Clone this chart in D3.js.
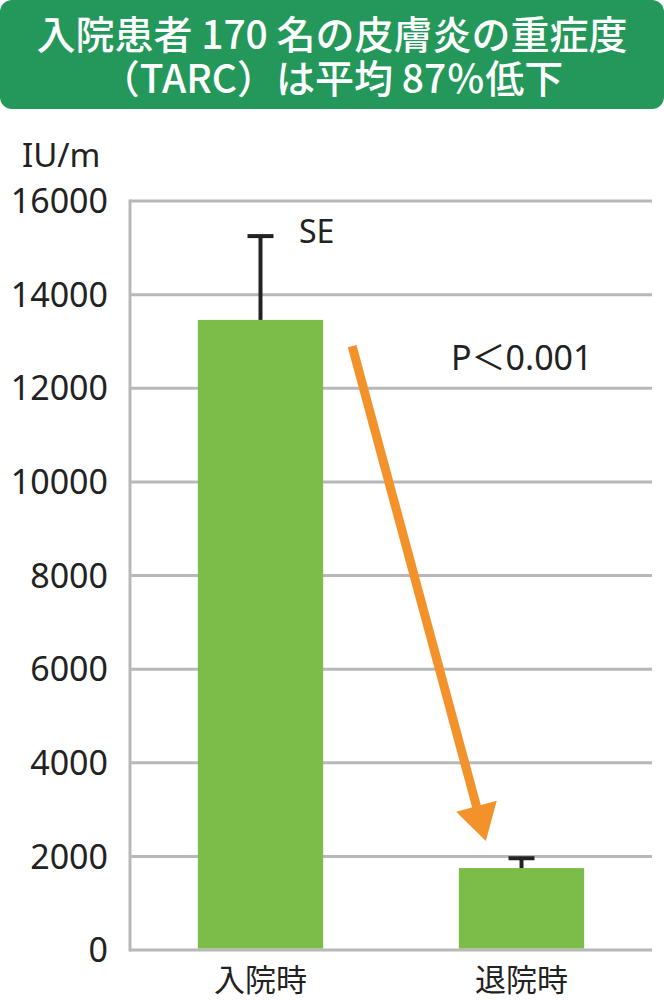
<!DOCTYPE html>
<html>
<head>
<meta charset="utf-8">
<script src="https://cdn.jsdelivr.net/npm/d3@7"></script>
<style>
  body { margin: 0; background: #fff; }
  text { font-family: "Noto Sans", "Noto Sans CJK JP", sans-serif; fill: #222; }
</style>
</head>
<body>
<script>
var categories = ["入院時", "退院時"];
var means = [13460, 1750];
var errTops = [15250, 1960];
var yTicks = [0, 2000, 4000, 6000, 8000, 10000, 12000, 14000, 16000];
var titleLines = ["入院患者 170 名の皮膚炎の重症度", "（TARC）は平均 87％低下"];

var width = 664, height = 1000;
var margin = { top: 201, right: 12, bottom: 50, left: 130 };

var svg = d3.select("body").append("svg")
    .attr("width", width)
    .attr("height", height);

// title box
svg.append("rect")
    .attr("x", 0).attr("y", 0)
    .attr("width", width).attr("height", 109)
    .attr("rx", 12)
    .attr("fill", "#23985a");

svg.selectAll(".title")
  .data(titleLines)
  .enter().append("text")
    .attr("class", "title")
    .attr("x", width / 2)
    .attr("y", (d, i) => 49 + i * 44)
    .attr("text-anchor", "middle")
    .style("font-family", "'Noto Sans CJK JP', sans-serif")
    .style("font-size", "39px")
    .style("font-weight", 500)
    .style("fill", "#fff")
    .text(d => d);

var x = d3.scaleBand()
    .domain(categories)
    .range([margin.left, width - margin.right])
    .paddingInner(0.52)
    .paddingOuter(0.26);

var y = d3.scaleLinear()
    .domain([0, 16000])
    .range([height - margin.bottom, margin.top]);

// grid lines
svg.append("g").selectAll("line")
  .data(yTicks)
  .enter().append("line")
    .attr("x1", margin.left)
    .attr("x2", width - margin.right)
    .attr("y1", d => y(d))
    .attr("y2", d => y(d))
    .attr("stroke", "#b8b8b8")
    .attr("stroke-width", 3);

svg.append("line")
    .attr("x1", margin.left).attr("x2", margin.left)
    .attr("y1", y(16000) - 1.5).attr("y2", y(0) + 1.5)
    .attr("stroke", "#b8b8b8")
    .attr("stroke-width", 3);

// tick labels
svg.append("g").selectAll("text")
  .data(yTicks)
  .enter().append("text")
    .attr("x", 108)
    .attr("y", d => y(d))
    .attr("dy", "0.36em")
    .attr("text-anchor", "end")
    .style("font-size", "34px")
    .text(d => d);

svg.append("text")
    .attr("x", 22).attr("y", 167)
    .style("font-size", "33px")
    .text("IU/m");

// bars
svg.append("g").selectAll("rect")
  .data(means)
  .enter().append("rect")
    .attr("x", (d, i) => x(categories[i]))
    .attr("width", x.bandwidth())
    .attr("y", d => y(d))
    .attr("height", d => y(0) - 1.5 - y(d))
    .attr("fill", "#7bbd48");

// error bars
var eb = svg.append("g").attr("stroke", "#222").attr("stroke-width", 4);
errTops.forEach(function(e, i) {
  var cx = x(categories[i]) + x.bandwidth() / 2;
  eb.append("line")
      .attr("x1", cx).attr("x2", cx)
      .attr("y1", y(means[i])).attr("y2", y(e));
  eb.append("line")
      .attr("x1", cx - 13).attr("x2", cx + 13)
      .attr("y1", y(e)).attr("y2", y(e));
});

svg.append("text")
    .attr("x", 299).attr("y", 243)
    .style("font-size", "32px")
    .text("SE");

// arrow from first bar down to second
var ax1 = x(categories[0]) + x.bandwidth() + 29, ay1 = y(12900);
var ax2 = x(categories[1]) + 27, ay2 = y(2330);
var ang = Math.atan2(ay2 - ay1, ax2 - ax1);
var headLen = 36, headHalf = 21;
var bx = ax2 - headLen * Math.cos(ang), by = ay2 - headLen * Math.sin(ang);
var px = -Math.sin(ang), py = Math.cos(ang);

svg.append("line")
    .attr("x1", ax1).attr("y1", ay1)
    .attr("x2", bx + 2 * Math.cos(ang)).attr("y2", by + 2 * Math.sin(ang))
    .attr("stroke", "#f3922b")
    .attr("stroke-width", 9);

svg.append("path")
    .attr("d", d3.line()([
      [ax2, ay2],
      [bx + px * headHalf, by + py * headHalf],
      [bx - px * headHalf, by - py * headHalf]
    ]) + "Z")
    .attr("fill", "#f3922b");

svg.append("text")
    .attr("x", 451).attr("y", 370)
    .style("font-size", "34px")
    .text("P＜0.001");

// category labels
svg.append("g").selectAll("text")
  .data(categories)
  .enter().append("text")
    .attr("x", d => x(d) + x.bandwidth() / 2)
    .attr("y", 991)
    .attr("text-anchor", "middle")
    .style("font-family", "'Noto Sans CJK JP', sans-serif")
    .style("font-size", "31px")
    .text(d => d);
</script>
</body>
</html>
